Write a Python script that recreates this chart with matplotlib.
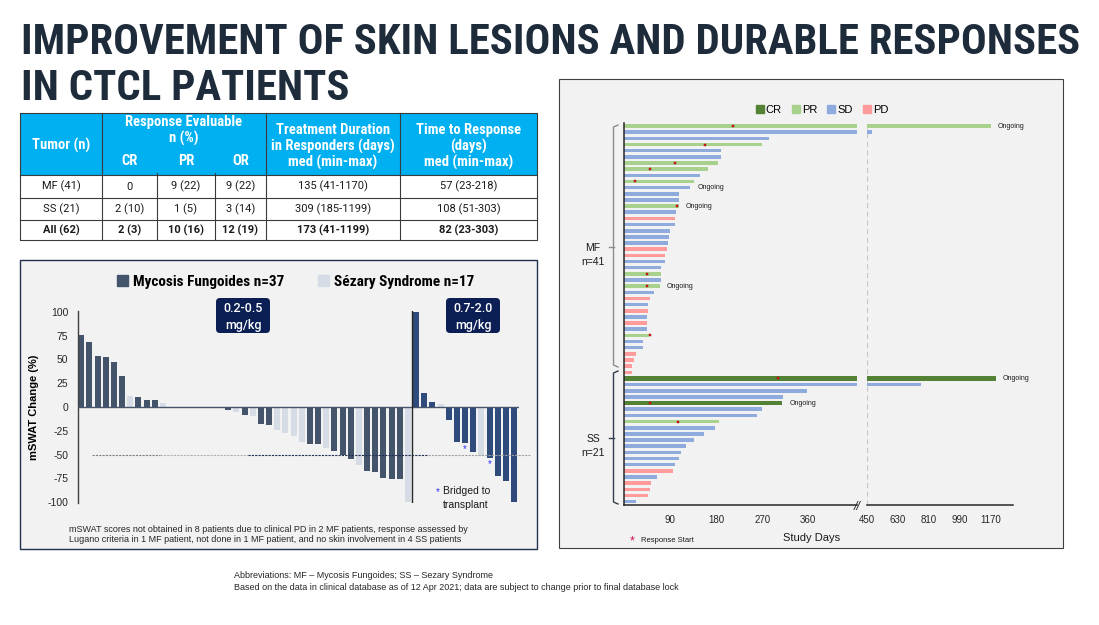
import matplotlib
matplotlib.use("Agg")
import matplotlib.pyplot as plt
from matplotlib.patches import Rectangle, FancyBboxPatch, Patch
import numpy as np

plt.rcParams["font.family"] = ["Liberation Sans", "DejaVu Sans"]
plt.rcParams["axes.unicode_minus"] = False

W, H = 1099, 625
NAVY = "#1d2b3a"
TITLE_FONT = ["Roboto Condensed", "Liberation Sans Narrow", "Roboto", "DejaVu Sans"]
TABLE_FONT = ["Roboto", "DejaVu Sans"]

# ── table data ────────────────────────────────────────────────────────────────
tumor = ["MF (41)", "SS (21)", "All (62)"]
cr_n = ["0", "2 (10)", "2 (3)"]
pr_n = ["9 (22)", "1 (5)", "10 (16)"]
or_n = ["9 (22)", "3 (14)", "12 (19)"]
duration = ["135 (41-1170)", "309 (185-1199)", "173 (41-1199)"]
time_to_resp = ["57 (23-218)", "108 (51-303)", "82 (23-303)"]

# ── waterfall data (mSWAT % change) ───────────────────────────────────────────
low_dose_change = [76, 68, 54, 53, 47, 33, 12, 11, 7, 7, 4,
                   0, 0, 0, 0, 0,
                   -1, -1.5, -3.5, -5, -8, -9.5, -17.5, -19, -24.5, -27, -30,
                   -37, -38.5, -39, -43.5, -46, -50, -54.5, -61, -67, -68.5,
                   -74.5, -75.5, -75.5, -100]
low_dose_type = ["MF", "MF", "MF", "MF", "MF", "MF", "SS", "MF", "MF", "MF", "SS",
                 "MF", "MF", "SS", "SS", "SS",
                 "MF", "SS", "MF", "SS", "MF", "SS", "MF", "MF", "SS", "SS", "SS",
                 "SS", "MF", "MF", "SS", "MF", "MF", "MF", "SS", "MF", "MF",
                 "MF", "MF", "MF", "SS"]
high_dose_change = [100, 15, 5, 3, -14, -37, -38, -47, -52, -54, -73, -78, -100]
high_dose_type = ["MF", "MF", "MF", "SS", "MF", "MF", "MF", "MF", "SS", "MF", "MF", "MF", "MF"]
high_dose_bridged = [False, False, False, False, False, False, True, False, False, True,
                     False, False, False]

# ── swimmer data (study days) ─────────────────────────────────────────────────
STATUS = ["CR", "PR", "SD", "PD"]
STATUS_COLOR = {"CR": "#548235", "PR": "#a9d18e", "SD": "#8faadc", "PD": "#ff9b9b"}

mf_status = ["PR", "SD", "SD", "PR", "SD", "SD", "PR", "PR", "SD", "PR", "SD",
             "SD", "SD", "PR", "SD", "PD", "SD", "SD", "SD", "SD", "PD", "PD",
             "SD", "SD", "PR", "SD", "PR", "SD", "PD", "SD", "PD", "SD", "PD",
             "SD", "PR", "SD", "SD", "PD", "PD", "PD", "PD"]
mf_days = [1170, 479, 283, 270, 190, 190, 184, 163, 149, 136, 129,
           107, 107, 107, 101, 100, 100, 89, 87, 85, 84, 80,
           80, 72, 72, 72, 70, 59, 50, 47, 46, 44, 44,
           44, 48, 37, 37, 22, 19, 15, 15]
mf_response = {0: 213, 3: 157, 6: 100, 7: 50, 9: 20, 13: 104, 24: 44, 26: 44, 34: 51}
mf_ongoing = [0, 10, 13, 26]

ss_status = ["CR", "SD", "SD", "SD", "CR", "SD", "SD", "PR", "SD", "SD", "SD",
             "SD", "SD", "SD", "SD", "PD", "SD", "PD", "PD", "PD", "SD"]
ss_days = [1199, 765, 357, 311, 309, 269, 260, 186, 178, 156, 136,
           121, 110, 107, 99, 95, 64, 52, 50, 46, 23]
ss_response = {0: 300, 4: 51, 7: 105}
ss_ongoing = [0, 4]

break_ticks = [90, 180, 270, 360]
long_ticks = [450, 630, 810, 990, 1170]


def px_axes(fig, x0, y0, x1, y1):
    return fig.add_axes([x0 / W, 1 - y1 / H, (x1 - x0) / W, (y1 - y0) / H])


fig = plt.figure(figsize=(W / 100, H / 100), dpi=100)
fig.patch.set_facecolor("white")

# pixel overlay for slide furniture
bg = fig.add_axes([0, 0, 1, 1])
bg.set_xlim(0, W)
bg.set_ylim(H, 0)
bg.axis("off")

# ── title ─────────────────────────────────────────────────────────────────────
bg.text(21, 42, "IMPROVEMENT OF SKIN LESIONS AND DURABLE RESPONSES", family=TITLE_FONT,
        fontsize=30.8, fontweight="bold", color=NAVY, va="center", ha="left")
bg.text(21, 88, "IN CTCL PATIENTS", family=TITLE_FONT,
        fontsize=30.8, fontweight="bold", color=NAVY, va="center", ha="left")

# ── table ─────────────────────────────────────────────────────────────────────
col_x = [20, 102, 157, 215, 266, 400, 537]
row_y = [175, 198, 220, 240]
bg.add_patch(Rectangle((20, 113), 517, 62, facecolor="#00b0f0", edgecolor="none"))
bg.add_patch(Rectangle((20, 175), 517, 65, facecolor="white", edgecolor="none"))
line_kw = dict(color="#3a3a3a", lw=0.8)
bg.plot([20, 537, 537, 20, 20], [113, 113, 240, 240, 113], **line_kw)
for y in row_y[:-1]:
    bg.plot([20, 537], [y, y], **line_kw)
for x in (102, 266, 400):
    bg.plot([x, x], [113, 240], **line_kw)
for x in (157, 215):
    bg.plot([x, x], [173, 240], **line_kw)

hdr = dict(family=TITLE_FONT, fontsize=10.5, fontweight="bold", color="white",
           ha="center", va="center")
bg.text(61, 145, "Tumor (n)", **hdr)
bg.text(184, 122, "Response Evaluable", **hdr)
bg.text(184, 138, "n (%)", **hdr)
for name, x0, x1 in zip(["CR", "PR", "OR"], col_x[1:4], col_x[2:5]):
    bg.text((x0 + x1) / 2, 161, name, **hdr)
for x, lines in [(333, ["Treatment Duration", "in Responders (days)", "med (min-max)"]),
                 (468.5, ["Time to Response", "(days)", "med (min-max)"])]:
    for y, s in zip([130, 146, 162], lines):
        bg.text(x, y, s, **hdr)

cols = [tumor, cr_n, pr_n, or_n, duration, time_to_resp]
for r in range(len(tumor)):
    yc = (row_y[r] + row_y[r + 1]) / 2
    for c, col in enumerate(cols):
        bg.text((col_x[c] + col_x[c + 1]) / 2, yc, col[r], family=TABLE_FONT,
                fontsize=8, color="#1a1a1a", ha="center", va="center",
                fontweight="bold" if r == 2 else "normal")

# ── waterfall panel ───────────────────────────────────────────────────────────
bg.add_patch(Rectangle((20, 260), 517, 289, facecolor="#f2f2f2",
                       edgecolor="#1f3050", lw=1.0))

wf = px_axes(fig, 78, 311, 519, 503)
wf.patch.set_alpha(0)
changes = low_dose_change + high_dose_change
n_low = len(low_dose_change)
colors = []
for i, t in enumerate(low_dose_type + high_dose_type):
    if t == "SS":
        colors.append("#d6dce5")
    else:
        colors.append("#44546a" if i < n_low else "#2f4b7c")
slots = np.arange(len(changes))
wf.bar(slots, changes, width=0.72, color=colors, zorder=2)
wf.axhline(0, color="#44546a", lw=1.0, zorder=3)
wf.axvline(n_low - 0.5, color="#262626", lw=1.0, zorder=3)
wf.plot([1.3, 9.6], [-51, -51], ls=(0, (2, 1)), color="#808080", lw=0.8)
wf.plot([9.6, 20.4], [-51, -51], ls=(0, (2, 1)), color="#b0b0b0", lw=0.8)
wf.plot([20.4, 42.5], [-51, -51], ls=(0, (2, 1)), color="#1f3050", lw=0.8)
wf.plot([42.5, 55], [-51, -51], ls=(0, (2, 1)), color="#a0a0a0", lw=0.8, clip_on=False)
for i, flag in enumerate(high_dose_bridged):
    if flag:
        wf.text(n_low + i, high_dose_change[i] - 6, "*", color="#3333ff",
                fontsize=7, ha="center", va="center")
wf.set_xlim(-0.4, len(changes) - 0.4)
wf.set_ylim(-101, 101)
wf.set_yticks(np.arange(-100, 101, 25))
wf.set_xticks([])
wf.tick_params(axis="y", length=0, labelsize=7.5, pad=7, labelcolor="#262626")
for side in ("top", "right", "bottom"):
    wf.spines[side].set_visible(False)
wf.spines["left"].set_color("#404040")
wf.spines["left"].set_linewidth(1.0)
wf.set_ylabel("mSWAT Change (%)", fontsize=8, fontweight="bold", labelpad=6)

fig.legend(handles=[Patch(color="#44546a", label="Mycosis Fungoides n=37"),
                    Patch(color="#d6dce5", label="Sézary Syndrome n=17")],
           loc="center", bbox_to_anchor=(296 / W, 1 - 282 / H), ncol=2, frameon=False,
           prop={"family": TITLE_FONT, "weight": "bold", "size": 11},
           handlelength=0.7, handleheight=0.7, handletextpad=0.35, columnspacing=2.2)

for x0, label in [(216, "0.2-0.5"), (446, "0.7-2.0")]:
    bg.add_patch(FancyBboxPatch((x0, 298), 54, 35, boxstyle="round,pad=0,rounding_size=4",
                                facecolor="#0b1f55", edgecolor="none"))
    bg.text(x0 + 27, 309, label, color="white", fontsize=9, ha="center", va="center",
            family=TABLE_FONT, fontweight="medium")
    bg.text(x0 + 27, 325, "mg/kg", color="white", fontsize=9, ha="center", va="center",
            family=TABLE_FONT, fontweight="medium")

bg.text(438, 492, "*", color="#3333ff", fontsize=7, ha="center", va="center")
bg.text(443, 491, "Bridged to", fontsize=7.5, ha="left", va="center", color="#1a1a1a")
bg.text(466, 505, "transplant", fontsize=7.5, ha="center", va="center", color="#1a1a1a")
bg.text(69, 529, "mSWAT scores not obtained in 8 patients due to clinical PD in 2 MF patients, "
        "response assessed by", fontsize=6.5, va="center", color="#262626")
bg.text(69, 540, "Lugano criteria in 1 MF patient, not done in 1 MF patient, and no skin "
        "involvement in 4 SS patients", fontsize=6.5, va="center", color="#262626")

# ── swimmer panel ─────────────────────────────────────────────────────────────
bg.add_patch(Rectangle((559, 79), 504, 469, facecolor="#f2f2f2",
                       edgecolor="#404040", lw=0.8))

status_all = mf_status + ss_status
days_all = mf_days + ss_days
rows = np.arange(len(days_all))
resp_rows = list(mf_response) + [len(mf_days) + k for k in ss_response]
resp_days = list(mf_response.values()) + list(ss_response.values())
ongoing_rows = mf_ongoing + [len(mf_days) + k for k in ss_ongoing]

ax1 = px_axes(fig, 624.3, 123, 857, 505)
ax2 = px_axes(fig, 866.7, 123, 1013, 505)
for ax in (ax1, ax2):
    ax.patch.set_alpha(0)
    for st in STATUS:
        idx = [i for i, s in enumerate(status_all) if s == st]
        ax.barh(rows[idx], [days_all[i] for i in idx],
                height=0.72 if st == "CR" else 0.58, color=STATUS_COLOR[st], label=st)
    ax.set_ylim(len(rows) - 0.45, -0.5)
    ax.set_yticks([])
    ax.tick_params(axis="x", length=0, labelsize=7, pad=7, labelcolor="#262626")
    for side in ("top", "right"):
        ax.spines[side].set_visible(False)
    ax.spines["bottom"].set_color("#262626")
    ax.spines["bottom"].set_linewidth(1.1)

ax1.set_xlim(0, 455.4)
ax1.set_xticks(break_ticks)
ax1.spines["left"].set_color("#262626")
ax1.spines["left"].set_linewidth(1.1)
ax2.set_xlim(450, 1297.6)
ax2.set_xticks(long_ticks)
ax2.spines["left"].set_visible(False)
ax2.axvline(450, color="#c8c8c8", lw=0.9, ls=(0, (4, 3)), zorder=0)

ax1.scatter(resp_days, resp_rows, marker="s", s=4, color="#e02020",
            edgecolors="#a00000", linewidths=0.3, zorder=4)
for r in ongoing_rows:
    ax = ax2 if days_all[r] > 450 else ax1
    ax.annotate("Ongoing", (days_all[r], r), xytext=(5, 0), textcoords="offset points",
                fontsize=5, va="center", ha="left", color="#1a1a1a")

bg.text(857, 507, "//", fontsize=9, ha="center", va="center", color="#262626",
        style="italic")
bg.text(812, 538, "Study Days", fontsize=8, ha="center", va="center", color="#1a1a1a")
bg.text(632, 541, "*", fontsize=9, color="#d01050", ha="center", va="center")
bg.text(641, 541, "Response Start", fontsize=5.5, ha="left", va="center", color="#1a1a1a")

fig.legend(handles=[Patch(color=STATUS_COLOR[s], label=s) for s in STATUS],
           loc="center", bbox_to_anchor=(822 / W, 1 - 110 / H), ncol=4, frameon=False,
           fontsize=8, handlelength=0.7, handleheight=0.7, handletextpad=0.2,
           columnspacing=0.9)

# group braces
for top, bot, mid, color, label in [(125, 367, 247, "#8c8c8c", "MF\nn=41"),
                                     (371, 504, 438, "#333f50", "SS\nn=21")]:
    bg.plot([618, 613.5, 613.5, 618], [top, top + 2, bot - 2, bot], color=color, lw=1.0)
    bg.plot([609, 613.5], [mid, mid], color=color, lw=1.0)
    bg.text(593, mid + 8, label, fontsize=7.5, ha="center", va="center",
            color="#1a1a1a", linespacing=1.4)

# ── footer ────────────────────────────────────────────────────────────────────
bg.text(234, 576, "Abbreviations: MF \u2013 Mycosis Fungoides; SS \u2013 Sezary Syndrome",
        fontsize=6.5, va="center", color="#262626")
bg.text(234, 588, "Based on the data in clinical database as of 12 Apr 2021; data are subject "
        "to change prior to final database lock", fontsize=6.5, va="center", color="#262626")

fig.savefig("out.png", dpi=100, facecolor="white")
